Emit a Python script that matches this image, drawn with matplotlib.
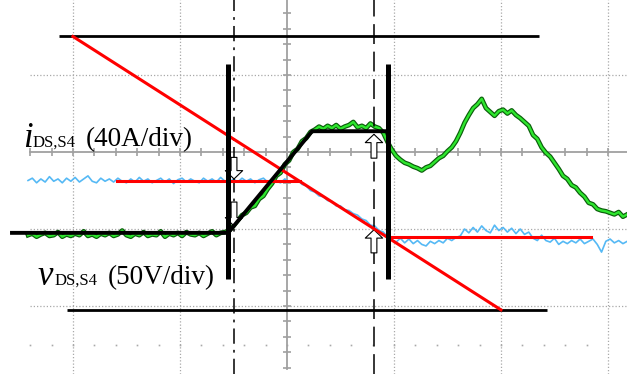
import numpy as np
import matplotlib
matplotlib.use("Agg")
import matplotlib.pyplot as plt

# scope screen, everything in divisions (x: time div, y: vertical div)
t = np.linspace(-2.42, 3.18, 141)

# v_DS,S4 trace (green)
v_ds = [
    -1.08, -1.06, -1.10, -1.07, -1.05, -1.09, -1.08, -1.04, -1.10, -1.07,
    -1.09, -1.06, -1.08, -1.03, -1.09, -1.07, -1.10, -1.06, -1.08, -1.05,
    -1.09, -1.07, -1.02, -1.08, -1.10, -1.06, -1.08, -1.04, -1.09, -1.07,
    -1.08, -1.03, -1.10, -1.06, -1.08, -1.05, -1.09, -1.04, -1.07, -1.08,
    -1.05, -1.09, -1.06, -1.03, -1.08, -1.05, -1.04, -1.02,
    -0.96, -0.89, -0.82, -0.79, -0.72, -0.70, -0.61, -0.57, -0.48, -0.41,
    -0.31, -0.27, -0.16, -0.11, 0.00, 0.04, 0.14, 0.18, 0.26,
    0.29, 0.33, 0.30, 0.34, 0.31, 0.35, 0.30, 0.33, 0.35, 0.39,
    0.32, 0.34, 0.31, 0.37, 0.33, 0.31, 0.25, 0.13, 0.03, -0.05,
    -0.10, -0.14, -0.16, -0.19, -0.21, -0.24, -0.20, -0.18, -0.13, -0.08,
    -0.05, 0.01, 0.06, 0.14, 0.25, 0.38, 0.48, 0.57, 0.62, 0.69,
    0.57, 0.52, 0.47, 0.53, 0.55, 0.50, 0.54, 0.48, 0.44, 0.39,
    0.34, 0.22, 0.17, 0.06, -0.01, -0.06, -0.14, -0.22, -0.31, -0.35,
    -0.43, -0.46, -0.53, -0.58, -0.66, -0.68, -0.74, -0.76, -0.77, -0.79,
    -0.81, -0.78, -0.84, -0.81,
]

# i_DS,S4 trace (blue)
i_ds = [
    -0.37, -0.34, -0.40, -0.35, -0.39, -0.32, -0.38, -0.35, -0.40, -0.34,
    -0.38, -0.33, -0.39, -0.35, -0.31, -0.38, -0.40, -0.34, -0.38, -0.35,
    -0.39, -0.34, -0.38, -0.40, -0.35, -0.39, -0.33, -0.38, -0.35, -0.40,
    -0.37, -0.34, -0.39, -0.35, -0.41, -0.36, -0.34, -0.39, -0.35, -0.38,
    -0.40, -0.34, -0.38, -0.35, -0.39, -0.33, -0.38, -0.40, -0.35, -0.39,
    -0.34, -0.38, -0.35, -0.40, -0.36, -0.34, -0.39, -0.35, -0.38, -0.40,
    -0.35, -0.39, -0.37,
    -0.36, -0.42, -0.44, -0.50, -0.52, -0.57, -0.58, -0.63, -0.64, -0.70,
    -0.70, -0.75, -0.76, -0.80, -0.82, -0.87, -0.89, -0.95, -0.96, -1.02,
    -1.04, -1.10, -1.14, -1.17, -1.12, -1.18, -1.13, -1.19, -1.15, -1.20,
    -1.22, -1.16, -1.19, -1.15, -1.18, -1.12, -1.15, -1.11, -1.09, -1.00,
    -1.05, -0.98, -1.04, -0.96, -1.02, -1.05, -0.95, -1.02, -0.98, -1.04,
    -0.99, -1.06, -1.00, -1.07, -1.04, -1.12, -1.15, -1.08, -1.15, -1.17,
    -1.12, -1.20, -1.16, -1.19, -1.15, -1.18, -1.13, -1.19, -1.16, -1.13,
    -1.20, -1.30, -1.16, -1.13, -1.18, -1.15, -1.19, -1.16,
]

# idealised waveforms drawn over the traces
v_ideal_x = [-2.57, -0.55, 0.235, 0.944]
v_ideal_y = [-1.05, -1.05, 0.27, 0.27]
i_slope_x = [-2.0, 2.0]
i_slope_y = [1.5, -2.05]
i_before_x = [-1.59, 0.118]
i_before_y = [-0.38, -0.38]
i_after_x = [0.941, 2.84]
i_after_y = [-1.11, -1.11]
top_rail = (1.5, -2.13, 2.36)
bottom_rail = (-2.05, -2.06, 2.43)
switch_x = [-0.55, 0.944]
switch_span = (-1.65, 1.14)
cursor_dashdot = -0.495
cursor_dashed = 0.813

# hollow arrows: (x, tail_y, tip_y)
arrows = [
    (-0.495, -0.07, -0.35),
    (-0.495, -0.65, -0.96),
    (0.813, -0.08, 0.23),
    (0.813, -1.31, -1.01),
]

fig = plt.figure(figsize=(6.27, 3.74), dpi=100)
ax = fig.add_axes([0, 0, 1, 1])
ax.set_xlim(-2.682, 3.178)
ax.set_ylim(-2.883, 1.974)
ax.axis("off")

grid_c = "#a9a9a9"
# dotted graticule
ax.vlines([-2, -1, 1, 2, 3], -2.883, 1.974, colors=grid_c, lw=0.9,
          linestyles=(0, (1, 1.6)), zorder=1)
ax.hlines([1, -1, -2], -2.4, 3.178, colors=grid_c, lw=0.9,
          linestyles=(0, (1, 1.6)), zorder=1)
dots = np.arange(-2.4, 2.81, 0.2)
ax.plot(dots, np.full_like(dots, -2.5), ls="", marker="s", ms=1.2,
        color=grid_c, mec="none", zorder=1)

# centre axes with minor ticks
ax.plot([0, 0], [-2.82, 1.974], color="#a0a0a0", lw=1.3, zorder=1)
ax.plot([-2.4, 3.178], [0, 0], color="#a0a0a0", lw=1.3, zorder=1)
yt = np.arange(-2.8, 1.81, 0.2)
ax.hlines(yt, -0.04, 0.04, colors="#a0a0a0", lw=1.2, zorder=1)
xt = np.arange(-2.4, 3.01, 0.2)
ax.vlines(xt, -0.05, 0.05, colors="#a0a0a0", lw=1.2, zorder=1)

# measured traces
ax.plot(t, i_ds, color="#55b9f5", lw=1.2, zorder=2)
ax.plot(t, v_ds, color="#0b5e0b", lw=3.4, zorder=2)
ax.plot(t, v_ds, color="#2ee62e", lw=1.7, zorder=2)

# cursors
ax.axvline(cursor_dashdot, color="black", lw=1.1,
           linestyle=(0, (10, 4, 1.8, 4)), zorder=3)
ax.axvline(cursor_dashed, color="black", lw=1.1,
           linestyle=(0, (13, 5)), zorder=3)

for x, y0, y1 in arrows:
    ax.annotate("", xy=(x, y1), xytext=(x, y0),
                arrowprops=dict(arrowstyle="simple,head_length=0.6,head_width=1.25,tail_width=0.42",
                                fc="white", ec="black", lw=0.8,
                                shrinkA=0, shrinkB=0, mutation_scale=10),
                zorder=4)

# idealised lines
ax.hlines(top_rail[0], top_rail[1], top_rail[2], colors="black", lw=2.0, zorder=5)
ax.hlines(bottom_rail[0], bottom_rail[1], bottom_rail[2], colors="black", lw=2.0, zorder=5)
ax.plot(i_slope_x, i_slope_y, color="red", lw=2.2, zorder=5)
ax.plot(i_before_x, i_before_y, color="red", lw=2.2, zorder=5)
ax.plot(i_after_x, i_after_y, color="red", lw=2.2, zorder=5)
ax.plot(v_ideal_x, v_ideal_y, color="black", lw=2.8, zorder=6,
        solid_joinstyle="miter")
ax.vlines(switch_x, switch_span[0], switch_span[1], colors="black", lw=3.6, zorder=6)

# channel labels
serif = "Liberation Serif"
ax.text(-2.467, 0.065, "i", family=serif, style="italic", fontsize=25, va="baseline")
ax.text(-2.374, 0.065, "DS,S4", family=serif, fontsize=12, va="baseline")
ax.text(-1.879, 0.071, "(40A/div)", family=serif, fontsize=19.5, va="baseline")
ax.text(-2.327, -1.727, "v", family=serif, style="italic", fontsize=25, va="baseline")
ax.text(-2.168, -1.727, "DS,S4", family=serif, fontsize=12, va="baseline")
ax.text(-1.673, -1.721, "(50V/div)", family=serif, fontsize=19.5, va="baseline")

fig.savefig("out.png", dpi=100)
